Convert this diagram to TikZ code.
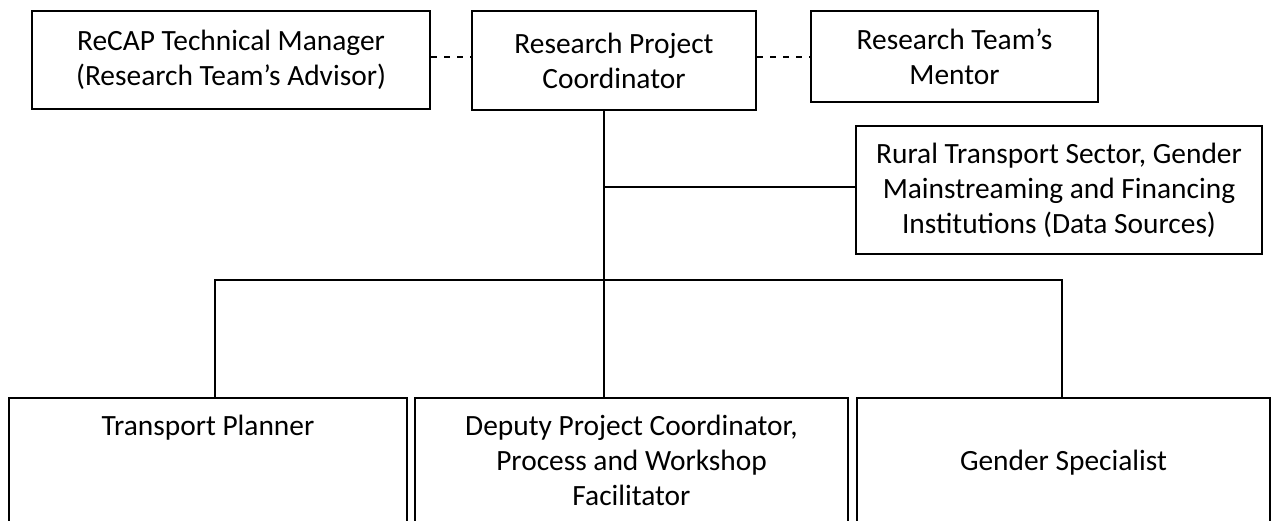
\documentclass[tikz,border=0pt]{standalone}
\usepackage{fontspec}
\setmainfont{Carlito}
\begin{document}
\begin{tikzpicture}[x=1pt,y=-1pt,
  box/.style={draw, line width=2pt, inner sep=0pt, align=center, font=\fontsize{29.4}{35}\selectfont},
  conn/.style={line width=2pt},
  dashconn/.style={line width=2pt, dash pattern=on 6pt off 7pt}]
\useasboundingbox (0,0) rectangle (1275,521);
\clip (0,0) rectangle (1275,521);
% top row
\node[box, minimum width=398pt, minimum height=98pt] (advisor) at (231,60) {ReCAP Technical Manager\\(Research Team’s Advisor)};
\node[box, minimum width=284pt, minimum height=99pt] (coord) at (614,60.5) {Research Project\\Coordinator};
\node[box, minimum width=287pt, minimum height=91pt] (mentor) at (954.5,56.5) {Research Team’s\\Mentor};
% data sources
\node[box, minimum width=406pt, minimum height=128pt] (data) at (1059,190) {Rural Transport Sector, Gender\\Mainstreaming and Financing\\Institutions (Data Sources)};
% bottom row
\node[box, anchor=north] (transport) at (208,397) {\parbox[b][160pt][t]{398pt}{\centering\vspace*{13pt}\strut Transport Planner}};
\node[box, anchor=north] (deputy) at (631.5,397) {\parbox[b][160pt][t]{433pt}{\centering\vspace*{13pt}\strut Deputy Project Coordinator,\\ Process and Workshop\\ Facilitator}};
\node[box, anchor=north] (gender) at (1063.5,397) {\parbox[b][160pt][t]{413pt}{\centering\vspace*{48pt}\strut Gender Specialist}};
% helper coordinates
\coordinate (dy) at (0,57);
\coordinate (vx) at (604,0);
\coordinate (jn) at (0,187);
\coordinate (bus) at (0,280);
\coordinate (tx) at (215,0);
\coordinate (gx) at (1062,0);
% connectors
\draw[dashconn] (advisor.east |- dy) -- (coord.west |- dy);
\draw[dashconn] (coord.east |- dy) -- (mentor.west |- dy);
\draw[conn] (coord.south -| vx) -- (deputy.north -| vx);
\draw[conn] (jn -| vx) -- (jn -| data.west);
\draw[conn] (transport.north -| tx) -- (bus -| tx) -- (bus -| gx) -- (gender.north -| gx);
\end{tikzpicture}
\end{document}
